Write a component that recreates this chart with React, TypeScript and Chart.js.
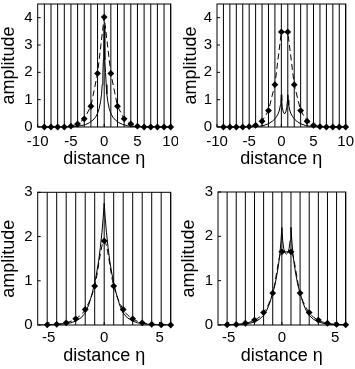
import React, { useEffect, useRef } from "react";
import { Chart, registerables } from "chart.js";
Chart.register(...registerables);

// ---------- data ----------
// Top row: lattice sites (spacing 1)
const topSites = [-9, -8, -7, -6, -5, -4, -3, -2, -1, 0, 1, 2, 3, 4, 5, 6, 7, 8, 9, 10];
const tlSiteAmp = [0, 0, 0, 0, 0.03, 0.11, 0.3, 0.76, 1.96, 4.02, 1.96, 0.76, 0.3, 0.11, 0.03, 0, 0, 0, 0, 0];
const trSiteAmp = [0, 0, 0, 0, 0.015, 0.06, 0.21, 0.6, 1.55, 3.48, 3.48, 1.55, 0.6, 0.21, 0.06, 0.015, 0, 0, 0, 0];

const tlContX = [-10, -6, -4.5, -3.5, -2.8, -2.2, -1.7, -1.3, -1.0, -0.75, -0.55, -0.4, -0.3, -0.2, -0.12, -0.06, 0, 0.06, 0.12, 0.2, 0.3, 0.4, 0.55, 0.75, 1.0, 1.3, 1.7, 2.2, 2.8, 3.5, 4.5, 6, 10];
const tlContY = [0, 0.003, 0.015, 0.045, 0.09, 0.16, 0.25, 0.36, 0.5, 0.68, 0.92, 1.2, 1.55, 2.0, 2.45, 3.0, 3.7, 3.0, 2.45, 2.0, 1.55, 1.2, 0.92, 0.68, 0.5, 0.36, 0.25, 0.16, 0.09, 0.045, 0.015, 0.003, 0];

const trContX = [-10, -6, -4.5, -3.5, -2.7, -2, -1.4, -1, -0.75, -0.5, -0.3, -0.15, -0.06, 0,
  0.06, 0.15, 0.3, 0.5, 0.7, 0.85, 0.94, 1,
  1.06, 1.15, 1.3, 1.5, 1.75, 2, 2.4, 3, 3.7, 4.5, 5.5, 7, 10];
const trContY = [0, 0.002, 0.008, 0.025, 0.06, 0.12, 0.21, 0.3, 0.38, 0.48, 0.62, 0.8, 0.98, 1.18,
  0.95, 0.72, 0.55, 0.48, 0.55, 0.72, 0.95, 1.18,
  0.98, 0.8, 0.62, 0.48, 0.38, 0.3, 0.21, 0.12, 0.06, 0.025, 0.008, 0.002, 0];

// Bottom row: lattice sites (spacing 6/7)
const botSites = [-5.143, -4.286, -3.429, -2.571, -1.714, -0.857, 0, 0.857, 1.714, 2.571, 3.429, 4.286, 5.143, 6];
const blSiteAmp = [0.005, 0.015, 0.05, 0.14, 0.35, 0.88, 1.9, 0.88, 0.35, 0.14, 0.05, 0.015, 0.005, 0];
const brSiteAmp = [0.004, 0.012, 0.04, 0.11, 0.28, 0.72, 1.65, 1.65, 0.72, 0.28, 0.11, 0.04, 0.012, 0.004];

const blContX = [-6, -5.143, -4.286, -3.429, -3.0, -2.571, -2.1, -1.714, -1.4, -1.1, -0.857, -0.7, -0.5, -0.35, -0.2, -0.1, 0, 0.1, 0.2, 0.35, 0.5, 0.7, 0.857, 1.1, 1.4, 1.714, 2.1, 2.571, 3.0, 3.429, 4.286, 5.143, 6];
const blContY = [0, 0.003, 0.01, 0.03, 0.05, 0.09, 0.16, 0.27, 0.45, 0.7, 0.95, 1.15, 1.45, 1.75, 2.1, 2.4, 2.75, 2.4, 2.1, 1.75, 1.45, 1.15, 0.95, 0.7, 0.45, 0.27, 0.16, 0.09, 0.05, 0.03, 0.01, 0.003, 0];

const brContX = [-6, -5.143, -4.286, -3.429, -3.0, -2.571, -2.1, -1.714, -1.4, -1.1, -0.857, -0.65, -0.45, -0.3, -0.18, -0.08, 0,
  0.08, 0.18, 0.3, 0.429, 0.557, 0.677, 0.777, 0.857,
  0.937, 1.037, 1.157, 1.307, 1.507, 1.714, 1.957, 2.257, 2.571, 2.957, 3.429, 3.857, 4.286, 5.143, 6];
const brContY = [0, 0.002, 0.007, 0.022, 0.04, 0.07, 0.13, 0.22, 0.34, 0.52, 0.72, 0.9, 1.15, 1.38, 1.62, 1.9, 2.2,
  1.9, 1.72, 1.63, 1.6, 1.63, 1.72, 1.9, 2.2,
  1.9, 1.62, 1.38, 1.15, 0.9, 0.72, 0.52, 0.34, 0.22, 0.13, 0.07, 0.04, 0.022, 0.007, 0.002];

const topXTicks = [-10, -5, 0, 5, 10];
const topYTicks = [0, 1, 2, 3, 4];
const botXTicks = [-5, 0, 5];
const botYTicks = [0, 1, 2, 3];

const xTitle = "distance η";
const yTitle = "amplitude";

// ---------- plugin ----------
const decor = {
  id: "decor",
  beforeDatasetsDraw(chart: any, _a: any, opts: any) {
    const { ctx, chartArea: a, scales } = chart;
    ctx.save();
    ctx.strokeStyle = "#000";
    ctx.lineWidth = 1;
    ctx.beginPath();
    for (const s of opts.sites) {
      const px = scales.x.getPixelForValue(s);
      ctx.moveTo(px, a.top);
      ctx.lineTo(px, a.bottom);
    }
    ctx.stroke();
    ctx.restore();
  },
  afterDatasetsDraw(chart: any) {
    const { ctx, chartArea: a, scales } = chart;
    ctx.save();
    ctx.strokeStyle = "#000";
    ctx.lineWidth = 1;
    ctx.strokeRect(a.left, a.top, a.right - a.left, a.bottom - a.top);
    ctx.beginPath();
    for (const t of scales.y.ticks) {
      const py = scales.y.getPixelForValue(t.value);
      ctx.moveTo(a.left, py);
      ctx.lineTo(a.left + 3, py);
    }
    for (const t of scales.x.ticks) {
      const px = scales.x.getPixelForValue(t.value);
      ctx.moveTo(px, a.bottom);
      ctx.lineTo(px, a.bottom - 3);
    }
    ctx.stroke();
    ctx.restore();
  },
};

type Panel = {
  left: number; top: number; w: number; h: number;
  yW: number; padR: number; padT: number; xH: number;
  xMin: number; xMax: number; yMax: number;
  xTicks: number[]; yTicks: number[];
  sites: number[]; siteAmp: number[]; contX: number[]; contY: number[];
  tension: number; xTickPad: number; xTitlePB: number; yTitlePT: number;
};

const panels: Panel[] = [
  { left: 0, top: 0, w: 178, h: 180, yW: 37.7, padR: 7.3, padT: 4, xH: 53, xMin: -10, xMax: 10, yMax: 4.5,
    xTicks: topXTicks, yTicks: topYTicks, sites: topSites, siteAmp: tlSiteAmp, contX: tlContX, contY: tlContY,
    tension: 0, xTickPad: 5.5, xTitlePB: 12, yTitlePT: 0.4 },
  { left: 178, top: 0, w: 177, h: 180, yW: 39, padR: 9.3, padT: 4, xH: 53, xMin: -10, xMax: 10, yMax: 4.5,
    xTicks: topXTicks, yTicks: topYTicks, sites: topSites, siteAmp: trSiteAmp, contX: trContX, contY: trContY,
    tension: 0, xTickPad: 5.5, xTitlePB: 12, yTitlePT: 3.9 },
  { left: 0, top: 180, w: 178, h: 189, yW: 37.7, padR: 7.3, padT: 12.3, xH: 44, xMin: -6, xMax: 6, yMax: 3,
    xTicks: botXTicks, yTicks: botYTicks, sites: botSites, siteAmp: blSiteAmp, contX: blContX, contY: blContY,
    tension: 0.4, xTickPad: 4, xTitlePB: 4, yTitlePT: 0.4 },
  { left: 178, top: 180, w: 177, h: 189, yW: 40, padR: 9.3, padT: 12, xH: 44, xMin: -6, xMax: 6, yMax: 3,
    xTicks: botXTicks, yTicks: botYTicks, sites: botSites, siteAmp: brSiteAmp, contX: brContX, contY: brContY,
    tension: 0.4, xTickPad: 4, xTitlePB: 4, yTitlePT: 1.9 },
];

const FONT = "'Liberation Sans', Arial, Helvetica, sans-serif";

function zeroPad(ax: any) {
  ax.paddingTop = 0;
  ax.paddingBottom = 0;
  ax.paddingLeft = 0;
  ax.paddingRight = 0;
}

function PanelChart({ p }: { p: Panel }) {
  const ref = useRef<HTMLCanvasElement | null>(null);
  useEffect(() => {
    if (!ref.current) return;
    const chart = new Chart(ref.current, {
      type: "scatter",
      data: {
        datasets: [
          {
            data: p.sites.map((x, i) => ({ x, y: p.siteAmp[i] })),
            showLine: true,
            borderColor: "#000",
            borderWidth: 1,
            borderDash: [6, 3.5],
            tension: p.tension,
            cubicInterpolationMode: p.tension > 0 ? "monotone" : "default",
            pointStyle: "rectRot",
            pointRadius: 3.4,
            pointBackgroundColor: "#000",
            pointBorderColor: "#000",
            pointBorderWidth: 0,
            clip: false,
          } as any,
          {
            data: p.contX.map((x, i) => ({ x, y: p.contY[i] })),
            showLine: true,
            borderColor: "#000",
            borderWidth: 1,
            pointRadius: 0,
            tension: 0,
          } as any,
        ],
      },
      options: {
        animation: false,
        responsive: false,
        devicePixelRatio: 1,
        layout: { padding: { left: 0, right: p.padR, top: p.padT, bottom: 0 } },
        plugins: {
          legend: { display: false },
          tooltip: { enabled: false },
          decor: { sites: p.sites },
        } as any,
        scales: {
          x: {
            type: "linear",
            min: p.xMin,
            max: p.xMax,
            grid: { display: false, drawTicks: false, tickLength: 0 },
            border: { display: false },
            afterBuildTicks: (ax: any) => { ax.ticks = p.xTicks.map((v) => ({ value: v })); },
            afterFit: (ax: any) => { ax.height = p.xH; zeroPad(ax); },
            ticks: { padding: p.xTickPad, color: "#000", font: { family: FONT, size: 15 }, maxRotation: 0, autoSkip: false },
            title: { display: true, text: xTitle, color: "#000", font: { family: FONT, size: 18, lineHeight: 1 }, padding: { top: 0, bottom: p.xTitlePB } },
          } as any,
          y: {
            type: "linear",
            min: 0,
            max: p.yMax,
            grid: { display: false, drawTicks: false, tickLength: 0 },
            border: { display: false },
            afterBuildTicks: (ax: any) => { ax.ticks = p.yTicks.map((v) => ({ value: v })); },
            afterFit: (ax: any) => { ax.width = p.yW; zeroPad(ax); },
            ticks: { padding: 5, color: "#000", font: { family: FONT, size: 15 } },
            title: { display: true, text: yTitle, color: "#000", font: { family: FONT, size: 18, lineHeight: 1 }, padding: { top: p.yTitlePT, bottom: 0 } },
          } as any,
        },
      },
      plugins: [decor],
    });
    return () => chart.destroy();
  }, [p]);
  return (
    <div style={{ position: "absolute", left: p.left, top: p.top, width: p.w, height: p.h }}>
      <canvas ref={ref} width={p.w} height={p.h} style={{ display: "block", width: p.w, height: p.h }} />
    </div>
  );
}

export default function App() {
  return (
    <div style={{ position: "absolute", left: 0, top: 0, width: 355, height: 369, background: "#fff" }}>
      {panels.map((p, i) => (
        <PanelChart key={i} p={p} />
      ))}
    </div>
  );
}
